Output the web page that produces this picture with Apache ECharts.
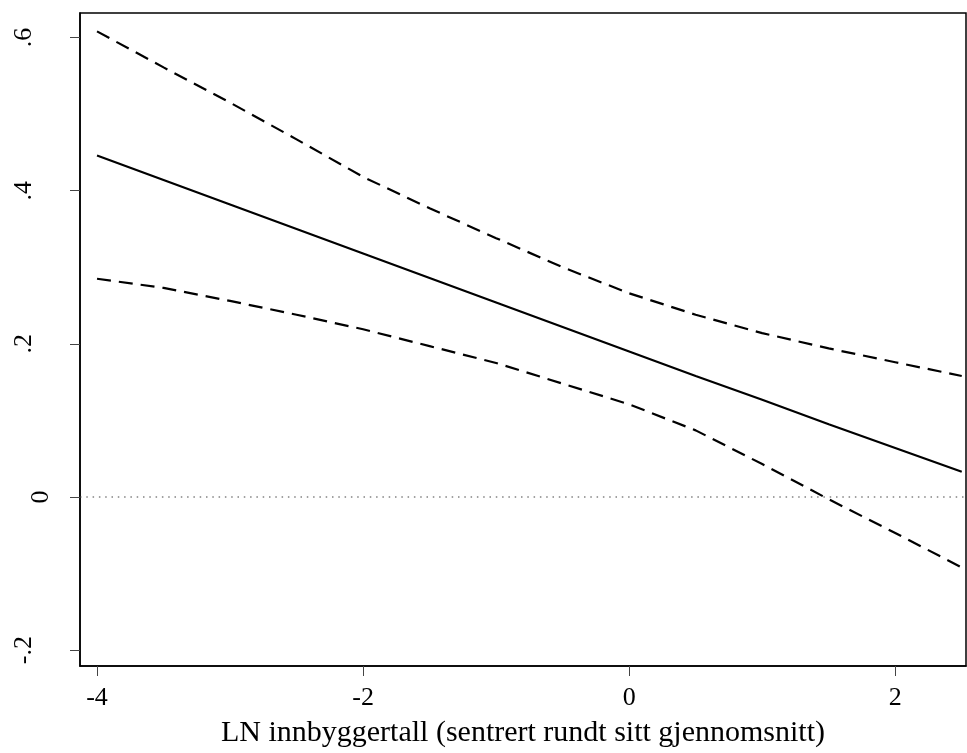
<!DOCTYPE html>
<html>
<head>
<meta charset="utf-8">
<script src="https://cdn.jsdelivr.net/npm/echarts@6/dist/echarts.min.js"></script>
<style>html,body{margin:0;padding:0;background:#fff}#c{width:967px;height:753px}</style>
</head>
<body>
<div id="c"></div>
<script>
var xValues = [-4, -3.5, -3, -2.5, -2, -1.5, -1, -0.5, 0, 0.5, 1, 1.5, 2, 2.5];
var estimate = [0.446, 0.414, 0.382, 0.350, 0.318, 0.286, 0.254, 0.222, 0.190, 0.158, 0.127, 0.095, 0.064, 0.033];
var upperCI = [0.608, 0.561, 0.515, 0.467, 0.418, 0.377, 0.338, 0.300, 0.266, 0.238, 0.214, 0.194, 0.176, 0.158];
var lowerCI = [0.285, 0.273, 0.256, 0.238, 0.219, 0.197, 0.175, 0.148, 0.121, 0.087, 0.043, -0.003, -0.047, -0.092];
var xTicks = [-4, -2, 0, 2];
var yTicks = [-0.2, 0, 0.2, 0.4, 0.6];
var yTickLabels = ['-.2', '0', '.2', '.4', '.6'];
var refLine = 0;
var xTitle = 'LN innbyggertall (sentrert rundt sitt gjennomsnitt)';

var xMin = -4.128, xMax = 2.532, yMin = -0.2207, yMax = 0.632;

function pairs(ys) { return xValues.map(function (x, i) { return [x, ys[i]]; }); }

var chart = echarts.init(document.getElementById('c'), null, { renderer: 'canvas' });
var font = 'Liberation Serif';
chart.setOption({
  animation: false,
  backgroundColor: '#fff',
  grid: { left: 80, right: 1, top: 13, bottom: 86, show: true, borderColor: '#000', borderWidth: 1.5, backgroundColor: 'transparent' },
  xAxis: {
    type: 'value', min: xMin, max: xMax,
    name: xTitle, nameLocation: 'middle', nameGap: 52,
    nameTextStyle: { fontFamily: font, fontSize: 30, color: '#000' },
    axisLine: { show: true, onZero: false, lineStyle: { color: '#000', width: 1.5 } },
    axisTick: { show: true, length: 10, customValues: xTicks, lineStyle: { color: '#444', width: 1 } },
    axisLabel: {
      customValues: xTicks, margin: 19, fontFamily: font, fontSize: 26, color: '#000',
      formatter: function (v) { return String(v); }
    },
    splitLine: { show: false }
  },
  yAxis: {
    type: 'value', min: yMin, max: yMax,
    axisLine: { show: true, onZero: false, lineStyle: { color: '#000', width: 1.5 } },
    axisTick: { show: true, length: 10, customValues: yTicks, lineStyle: { color: '#444', width: 1 } },
    axisLabel: {
      customValues: yTicks, rotate: 90, margin: 26, fontFamily: font, fontSize: 26, color: '#000',
      formatter: function (v) {
        for (var i = 0; i < yTicks.length; i++) {
          if (Math.abs(yTicks[i] - v) < 1e-6) {
            return yTickLabels[i] === '0' ? '{z|0}' : '{d|' + yTickLabels[i] + '}';
          }
        }
        return '';
      },
      rich: {
        z: { fontFamily: font, fontSize: 26, color: '#000' },
        d: { fontFamily: font, fontSize: 26, color: '#000', padding: [0, 0, 17, 0] }
      }
    },
    splitLine: { show: false }
  },
  series: [
    {
      type: 'line', data: [[xMin, refLine], [xMax, refLine]], symbol: 'none', silent: true,
      lineStyle: { color: '#444', width: 1.2, type: [1.5, 4.8] }
    },
    {
      type: 'line', data: pairs(upperCI), symbol: 'none',
      lineStyle: { color: '#000', width: 2.2, type: [14, 8] }
    },
    {
      type: 'line', data: pairs(estimate), symbol: 'none',
      lineStyle: { color: '#000', width: 2.2 }
    },
    {
      type: 'line', data: pairs(lowerCI), symbol: 'none',
      lineStyle: { color: '#000', width: 2.2, type: [14, 8] }
    }
  ]
});
</script>
</body>
</html>
